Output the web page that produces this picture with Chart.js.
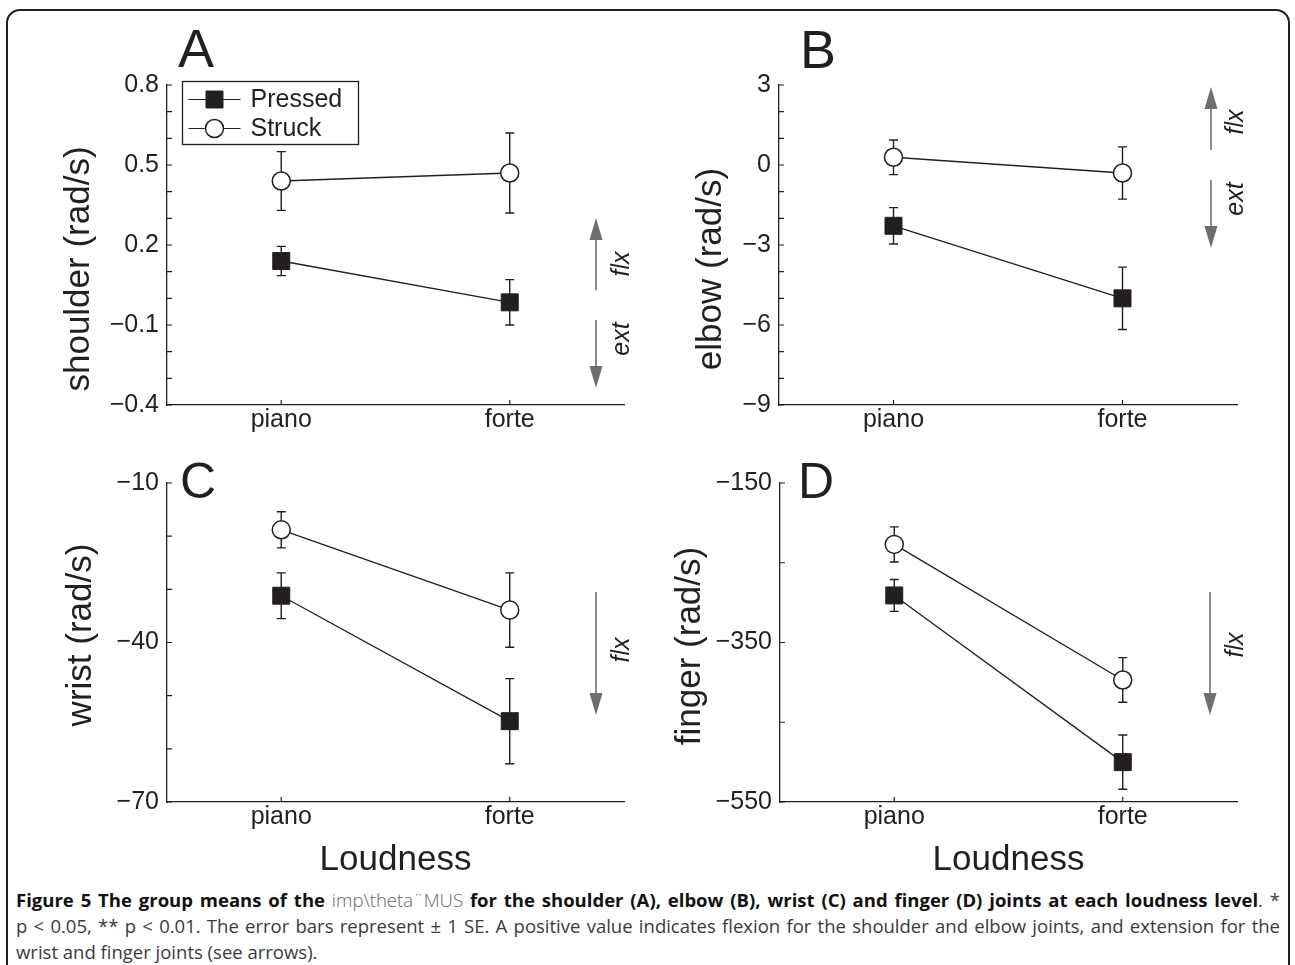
<!DOCTYPE html>
<html>
<head>
<meta charset="utf-8">
<script src="https://cdn.jsdelivr.net/npm/chart.js@4.4.1/dist/chart.umd.min.js"></script>
<style>
    html, body {
        margin: 0;
        padding: 0;
        width: 1295px;
        height: 965px;
        overflow: hidden;
        background: #fff;
    }

    #frame {
        position: absolute;
        left: 6px;
        top: 9px;
        width: 1280px;
        height: 1000px;
        border: 2px solid #231f20;
        border-radius: 14px;
    }

    canvas {
        position: absolute;
    }

    #caption {
        position: absolute;
        left: 16px;
        top: 887px;
        width: 1264px;
        font-family: 'Open Sans', 'Noto Sans', sans-serif;
        font-size: 18.5px;
        line-height: 26px;
        color: #3a3a3a;
    }

    #caption .line {
        white-space: nowrap;
        text-align: justify;
        text-align-last: justify;
    }

    #caption .line.last {
        text-align-last: left;
    }

    #caption b {
        color: #111;
        font-weight: 700;
    }

    #caption .light {
        color: #666;
        font-weight: 300;
    }
</style>
</head>
<body>
<div id="frame"></div>
<canvas id="chartA" width="648" height="450"></canvas>
<canvas id="chartB" width="647" height="450"></canvas>
<canvas id="chartC" width="648" height="430"></canvas>
<canvas id="chartD" width="647" height="430"></canvas>
<div id="caption">
    <div class="line"><b>Figure 5 The group means of the</b> <span class="light">imp\theta¨MUS</span> <b>for the shoulder (A), elbow (B), wrist (C) and finger (D) joints at each loudness level</b>. *</div>
    <div class="line">p &lt; 0.05, ** p &lt; 0.01. The error bars represent ± 1 SE. A positive value indicates flexion for the shoulder and elbow joints, and extension for the</div>
    <div class="line last">wrist and finger joints (see arrows).</div>
</div>
<script>
    // values (mean and ±1 SE)
    const loudness = ['piano', 'forte'];
    const seriesNames = ['Pressed', 'Struck'];

    const shoulderPressed = [0.14, -0.015];
    const shoulderPressedSE = [0.055, 0.085];
    const shoulderStruck = [0.44, 0.47];
    const shoulderStruckSE = [0.11, 0.15];

    const elbowPressed = [-2.28, -5.0];
    const elbowPressedSE = [0.68, 1.17];
    const elbowStruck = [0.29, -0.3];
    const elbowStruckSE = [0.65, 0.98];

    const wristPressed = [-31.2, -54.8];
    const wristPressedSE = [4.3, 8.0];
    const wristStruck = [-18.8, -33.9];
    const wristStruckSE = [3.4, 7.0];

    const fingerPressed = [-291, -500];
    const fingerPressedSE = [20, 34];
    const fingerStruck = [-227, -397];
    const fingerStruckSE = [22, 28];

    // axis ranges: [min, max, step, label every n steps]
    const shoulderAxis = [-0.4, 0.8, 0.1, 3];
    const elbowAxis = [-9, 3, 1, 3];
    const wristAxis = [-70, -10, 10, 3];
    const fingerAxis = [-550, -150, 100, 2];

    const ink = '#231f20';
    const arrowGray = '#6d6e71';
    const fontFamily = "'Liberation Sans', Arial, 'Noto Sans CJK JP', sans-serif";

    Chart.defaults.font.family = fontFamily;
    Chart.defaults.color = ink;

    function formatTick(value, decimals) {
        const text = Math.abs(value) < 1e-9 ? '0' : value.toFixed(decimals);
        return text.replace('-', '\u2212');
    }

    const errorBars = {
        id: 'errorBars',
        beforeDatasetsDraw(chart) {
            const {ctx, scales: {y}} = chart;
            ctx.save();
            ctx.strokeStyle = ink;
            ctx.lineWidth = 1.4;
            ctx.beginPath();
            chart.data.datasets.forEach((ds, di) => {
                chart.getDatasetMeta(di).data.forEach((pt, i) => {
                    const top = y.getPixelForValue(ds.data[i] + ds.se[i]);
                    const bottom = y.getPixelForValue(ds.data[i] - ds.se[i]);
                    ctx.moveTo(pt.x, top);
                    ctx.lineTo(pt.x, bottom);
                    ctx.moveTo(pt.x - 4.5, top);
                    ctx.lineTo(pt.x + 4.5, top);
                    ctx.moveTo(pt.x - 4.5, bottom);
                    ctx.lineTo(pt.x + 4.5, bottom);
                });
            });
            ctx.stroke();
            ctx.restore();
        }
    };

    // matlab style ticks pointing into the plot
    const innerTicks = {
        id: 'innerTicks',
        afterDraw(chart) {
            const {ctx, chartArea, scales: {x, y}} = chart;
            ctx.save();
            ctx.strokeStyle = ink;
            ctx.lineWidth = 1.2;
            ctx.beginPath();
            y.ticks.forEach((t, i) => {
                const py = y.getPixelForTick(i);
                ctx.moveTo(chartArea.left, py);
                ctx.lineTo(chartArea.left + 5, py);
            });
            x.ticks.forEach((t, i) => {
                const px = x.getPixelForTick(i);
                ctx.moveTo(px, chartArea.bottom);
                ctx.lineTo(px, chartArea.bottom - 5);
            });
            ctx.stroke();
            ctx.restore();
        }
    };

    function drawMarker(ctx, ds, x, y) {
        ctx.save();
        ctx.fillStyle = ds.pointBackgroundColor;
        ctx.strokeStyle = ds.pointBorderColor;
        ctx.lineWidth = ds.pointBorderWidth;
        ctx.beginPath();
        if (ds.pointStyle === 'rect') {
            const half = ds.pointRadius * Math.SQRT1_2;
            ctx.rect(x - half, y - half, half * 2, half * 2);
        } else {
            ctx.arc(x, y, ds.pointRadius, 0, Math.PI * 2);
        }
        ctx.fill();
        ctx.stroke();
        ctx.restore();
    }

    function drawArrow(ctx, a) {
        const dir = a.to < a.from ? -1 : 1;
        const headLen = 22;
        ctx.save();
        ctx.strokeStyle = arrowGray;
        ctx.fillStyle = arrowGray;
        ctx.lineWidth = 1.6;
        ctx.beginPath();
        ctx.moveTo(a.x, a.from);
        ctx.lineTo(a.x, a.to - dir * headLen);
        ctx.stroke();
        ctx.beginPath();
        ctx.moveTo(a.x, a.to);
        ctx.lineTo(a.x - 6.5, a.to - dir * headLen);
        ctx.lineTo(a.x + 6.5, a.to - dir * headLen);
        ctx.closePath();
        ctx.fill();

        ctx.fillStyle = ink;
        ctx.font = 'italic 25px ' + fontFamily;
        ctx.textAlign = 'center';
        ctx.textBaseline = 'middle';
        ctx.translate(a.lx, a.ly);
        ctx.rotate(-Math.PI / 2);
        ctx.fillText(a.label, 0, 0);
        ctx.restore();
    }

    function decorPlugin(panel) {
        const ox = panel.box[0];
        const oy = panel.box[1];
        return {
            id: 'decor',
            afterDraw(chart) {
                const ctx = chart.ctx;
                ctx.save();
                ctx.translate(-ox, -oy);

                ctx.fillStyle = ink;
                ctx.font = panel.letterSize + 'px ' + fontFamily;
                ctx.textAlign = 'left';
                ctx.textBaseline = 'alphabetic';
                ctx.fillText(panel.letter, panel.letterPos[0], panel.letterPos[1]);

                ctx.save();
                ctx.font = '35px ' + fontFamily;
                ctx.textAlign = 'center';
                ctx.textBaseline = 'middle';
                ctx.translate(panel.titlePos[0], panel.titlePos[1]);
                ctx.rotate(-Math.PI / 2);
                ctx.fillText(panel.title, 0, 0);
                ctx.restore();

                panel.arrows.forEach(a => drawArrow(ctx, a));

                if (panel.legend) {
                    const [lx, ly, lw, lh] = panel.legend;
                    ctx.strokeStyle = ink;
                    ctx.lineWidth = 1.3;
                    ctx.strokeRect(lx, ly, lw, lh);
                    chart.data.datasets.forEach((ds, i) => {
                        const rowY = ly + 18 + i * 29;
                        ctx.beginPath();
                        ctx.moveTo(lx + 6, rowY);
                        ctx.lineTo(lx + 58, rowY);
                        ctx.lineWidth = 1.2;
                        ctx.stroke();
                        drawMarker(ctx, ds, lx + 32, rowY);
                        ctx.fillStyle = ink;
                        ctx.font = '25px ' + fontFamily;
                        ctx.textAlign = 'left';
                        ctx.textBaseline = 'middle';
                        ctx.fillText(ds.label, lx + 68, rowY + 1);
                    });
                }
                ctx.restore();
            }
        };
    }

    function makePanel(panel) {
        const canvas = document.getElementById(panel.id);
        const [bx, by, bw, bh] = panel.box;
        const [pl, pt, pr, pb] = panel.plot;
        canvas.style.left = bx + 'px';
        canvas.style.top = by + 'px';
        const [min, max, step, every] = panel.axis;
        const yWidth = pl - bx;
        const xHeight = panel.xTitle ? bh - (pb - by) : 40;

        return new Chart(canvas, {
            type: 'line',
            data: {
                labels: loudness,
                datasets: [
                    {
                        label: seriesNames[0],
                        data: panel.pressed,
                        se: panel.pressedSE,
                        borderColor: ink,
                        borderWidth: 1.3,
                        pointStyle: 'rect',
                        pointRadius: 12,
                        pointBackgroundColor: ink,
                        pointBorderColor: ink,
                        pointBorderWidth: 1,
                        clip: false
                    },
                    {
                        label: seriesNames[1],
                        data: panel.struck,
                        se: panel.struckSE,
                        borderColor: ink,
                        borderWidth: 1.3,
                        pointStyle: 'circle',
                        pointRadius: 9,
                        pointBackgroundColor: '#ffffff',
                        pointBorderColor: ink,
                        pointBorderWidth: 1.5,
                        clip: false
                    }
                ]
            },
            options: {
                responsive: false,
                animation: false,
                devicePixelRatio: 1,
                events: [],
                layout: {
                    padding: {
                        left: 0,
                        top: pt - by,
                        right: bx + bw - pr,
                        bottom: bh - (pb - by) - xHeight
                    }
                },
                plugins: {
                    legend: {display: false},
                    tooltip: {enabled: false}
                },
                scales: {
                    x: {
                        type: 'category',
                        offset: true,
                        grid: {display: false, drawTicks: false},
                        border: {display: true, color: ink, width: 1.3},
                        ticks: {
                            font: {size: 25, lineHeight: 1.2},
                            color: ink,
                            padding: 0,
                            maxRotation: 0
                        },
                        title: {
                            display: !!panel.xTitle,
                            text: 'Loudness',
                            font: {size: 35, lineHeight: 1},
                            color: ink,
                            padding: {top: 0, bottom: 2}
                        },
                        afterFit(scale) {
                            scale.height = xHeight;
                        }
                    },
                    y: {
                        min: min,
                        max: max,
                        grid: {display: false, drawTicks: false},
                        border: {display: true, color: ink, width: 1.3},
                        ticks: {
                            stepSize: step,
                            autoSkip: false,
                            padding: 8,
                            font: {size: 25},
                            color: ink,
                            callback(value) {
                                const k = Math.round((value - min) / step);
                                return k % every === 0 ? formatTick(value, panel.decimals) : '';
                            }
                        },
                        afterFit(scale) {
                            scale.width = yWidth;
                        }
                    }
                }
            },
            plugins: [errorBars, innerTicks, decorPlugin(panel)]
        });
    }

    const panels = [
        {
            id: 'chartA', box: [0, 0, 648, 450], plot: [167, 85, 624, 405],
            axis: shoulderAxis, decimals: 1,
            pressed: shoulderPressed, pressedSE: shoulderPressedSE,
            struck: shoulderStruck, struckSE: shoulderStruckSE,
            letter: 'A', letterSize: 54, letterPos: [178, 67],
            title: 'shoulder (rad/s)', titlePos: [79, 269],
            arrows: [
                {x: 596, from: 290, to: 218, label: 'flx', lx: 622, ly: 264},
                {x: 596, from: 320, to: 388, label: 'ext', lx: 622, ly: 339}
            ],
            legend: [182.5, 81.5, 176, 63]
        },
        {
            id: 'chartB', box: [648, 0, 647, 450], plot: [779, 85, 1237, 405],
            axis: elbowAxis, decimals: 0,
            pressed: elbowPressed, pressedSE: elbowPressedSE,
            struck: elbowStruck, struckSE: elbowStruckSE,
            letter: 'B', letterSize: 54, letterPos: [800, 68],
            title: 'elbow (rad/s)', titlePos: [711, 269],
            arrows: [
                {x: 1211, from: 150, to: 87, label: 'flx', lx: 1236, ly: 122},
                {x: 1211, from: 180, to: 248, label: 'ext', lx: 1236, ly: 199}
            ]
        },
        {
            id: 'chartC', box: [0, 450, 648, 430], plot: [167, 483, 624, 802],
            axis: wristAxis, decimals: 0, xTitle: true,
            pressed: wristPressed, pressedSE: wristPressedSE,
            struck: wristStruck, struckSE: wristStruckSE,
            letter: 'C', letterSize: 50, letterPos: [180, 498],
            title: 'wrist (rad/s)', titlePos: [81, 635],
            arrows: [
                {x: 596, from: 592, to: 715, label: 'flx', lx: 622, ly: 650}
            ]
        },
        {
            id: 'chartD', box: [648, 450, 647, 430], plot: [780, 483, 1237, 802],
            axis: fingerAxis, decimals: 0, xTitle: true,
            pressed: fingerPressed, pressedSE: fingerPressedSE,
            struck: fingerStruck, struckSE: fingerStruckSE,
            letter: 'D', letterSize: 50, letterPos: [798, 498],
            title: 'finger (rad/s)', titlePos: [690, 646],
            arrows: [
                {x: 1210, from: 592, to: 715, label: 'flx', lx: 1236, ly: 645}
            ]
        }
    ];

    panels.forEach(makePanel);
</script>
</body>
</html>
